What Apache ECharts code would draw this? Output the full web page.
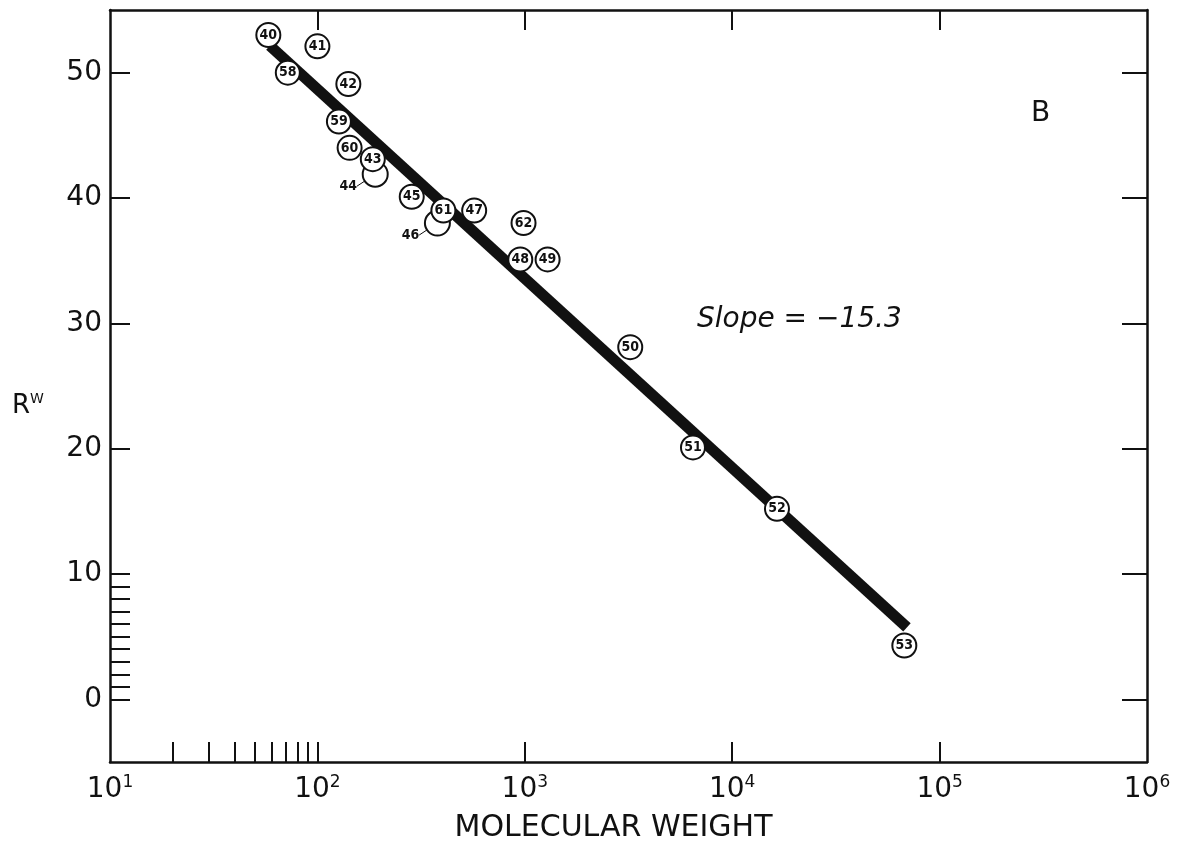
<!DOCTYPE html>
<html>
<head>
<meta charset="utf-8">
<script src="https://cdn.jsdelivr.net/npm/echarts@6/dist/echarts.min.js"></script>
<style>
  html, body { margin: 0; background: #fff; }
  #chart { width: 1194px; height: 848px; }
</style>
</head>
<body>
<div id="chart"></div>
<script>
// compound numbers, molecular weights and R^W values
var ids     = ['40', '41', '58', '42', '59', '60', '43', '45', '61', '47', '62', '48', '49', '50', '51', '52', '53'];
var weights = [58, 100, 72, 141, 127, 143, 185, 285, 405, 570, 986, 951, 1288, 3224, 6470, 16440, 67600];
var rw      = [53.0, 52.1, 50.0, 49.1, 46.1, 44.0, 43.1, 40.1, 39.0, 39.0, 38.0, 35.1, 35.1, 28.1, 20.1, 15.2, 4.3];

// points whose number is written beside the circle
var sideIds     = ['44', '46'];
var sideWeights = [190, 379];
var sideRw      = [41.9, 38.0];

// fitted line, slope -15.3
var fitWeights = [59, 69600];
var fitRw      = [52.15, 5.74];

var xLabelValues  = [10, 100, 1000, 10000, 100000, 1000000];
var xBottomTicks  = [20, 30, 40, 50, 60, 70, 80, 90, 100, 1000, 10000, 100000];
var xTopTicks     = [100, 1000, 10000, 100000];
var yLabelValues  = [0, 10, 20, 30, 40, 50];
var yLeftTicks    = [0, 1, 2, 3, 4, 5, 6, 7, 8, 9, 10, 20, 30, 40, 50];

var ink = '#111';
var chart = echarts.init(document.getElementById('chart'));

function zip(a, b) {
  return a.map(function (v, i) { return [v, b[i]]; });
}

var circleFont = 'DejaVu Sans Condensed, Liberation Sans Narrow, sans-serif';

var option = {
  animation: false,
  backgroundColor: '#fff',
  grid: { left: 110, right: 47, top: 10, bottom: 85 },
  xAxis: [
    {
      type: 'log', logBase: 10, min: 10, max: 1000000, position: 'bottom',
      name: 'MOLECULAR WEIGHT', nameLocation: 'middle', nameGap: 51,
      nameTextStyle: { color: ink, fontSize: 30, fontFamily: 'DejaVu Sans', padding: [0, 30, 0, 0] },
      axisLine: { onZero: false, lineStyle: { color: ink, width: 2.5 } },
      axisTick: { inside: true, length: 20, customValues: xBottomTicks, lineStyle: { color: ink, width: 2 } },
      minorTick: { show: false },
      splitLine: { show: false },
      axisLabel: {
        customValues: xLabelValues, margin: 12,
        formatter: function (v) {
          return '{b|10}{e|' + Math.round(Math.log10(v)) + '}';
        },
        rich: {
          b: { fontSize: 28, lineHeight: 32, color: ink, fontFamily: 'DejaVu Sans' },
          e: { fontSize: 17, lineHeight: 18, verticalAlign: 'top', color: ink, fontFamily: 'DejaVu Sans' }
        }
      }
    },
    {
      type: 'log', logBase: 10, min: 10, max: 1000000, position: 'top',
      axisLine: { onZero: false, lineStyle: { color: ink, width: 2.5 } },
      axisTick: { inside: true, length: 20, customValues: xTopTicks, lineStyle: { color: ink, width: 2 } },
      axisLabel: { show: false },
      splitLine: { show: false }
    }
  ],
  yAxis: [
    {
      type: 'value', min: -5, max: 55, interval: 5, position: 'left',
      axisLine: { show: true, onZero: false, lineStyle: { color: ink, width: 2.5 } },
      axisTick: { show: true, inside: true, length: 20, customValues: yLeftTicks, lineStyle: { color: ink, width: 2 } },
      splitLine: { show: false },
      axisLabel: { customValues: yLabelValues, margin: 8, color: ink, fontSize: 28, fontFamily: 'DejaVu Sans' }
    },
    {
      type: 'value', min: -5, max: 55, interval: 5, position: 'right',
      axisLine: { show: true, onZero: false, lineStyle: { color: ink, width: 2.5 } },
      axisTick: { show: true, inside: true, length: 25, customValues: yLabelValues, lineStyle: { color: ink, width: 2 } },
      splitLine: { show: false },
      axisLabel: { show: false }
    }
  ],
  series: [
    {
      name: 'fit', type: 'line', z: 1,
      data: zip(fitWeights, fitRw),
      symbol: 'none',
      lineStyle: { color: ink, width: 11, cap: 'butt' }
    },
    {
      name: 'side', type: 'scatter', z: 2,
      data: zip(sideWeights, sideRw).map(function (d, i) {
        return { value: d, name: sideIds[i] };
      }),
      symbol: 'circle', symbolSize: 25,
      itemStyle: { color: '#fff', borderColor: ink, borderWidth: 2, opacity: 1 },
      label: {
        show: true, position: 'inside', formatter: '{b}',
        color: ink, fontSize: 14, fontWeight: 'bold', fontFamily: circleFont
      },
      labelLayout: { dx: -27, dy: 12 },
      labelLine: { show: true, lineStyle: { color: ink, width: 1 } }
    },
    {
      name: 'compounds', type: 'scatter', z: 3,
      data: zip(weights, rw).map(function (d, i) {
        return { value: d, name: ids[i] };
      }),
      symbol: 'circle', symbolSize: 24,
      itemStyle: { color: '#fff', borderColor: ink, borderWidth: 2, opacity: 1 },
      label: {
        show: true, position: 'inside', formatter: '{b}',
        color: ink, fontSize: 14, fontWeight: 'bold', fontFamily: circleFont
      }
    }
  ],
  graphic: [
    {
      type: 'text', left: 12, top: 392,
      style: {
        text: '{r|R}{w|W}',
        rich: {
          r: { fontSize: 26, lineHeight: 28, fill: ink, fontFamily: 'DejaVu Sans' },
          w: { fontSize: 14, lineHeight: 14, verticalAlign: 'top', fill: ink, fontFamily: 'DejaVu Sans' }
        }
      }
    },
    {
      type: 'text', left: 1031, top: 100,
      style: { text: 'B', fontSize: 28, fill: ink, fontFamily: 'DejaVu Sans' }
    },
    {
      type: 'text', left: 697, top: 306,
      style: { text: 'Slope = \u221215.3', fontSize: 28, fontStyle: 'italic', fill: ink, fontFamily: 'DejaVu Sans' }
    }
  ]
};

chart.setOption(option);
</script>
</body>
</html>
